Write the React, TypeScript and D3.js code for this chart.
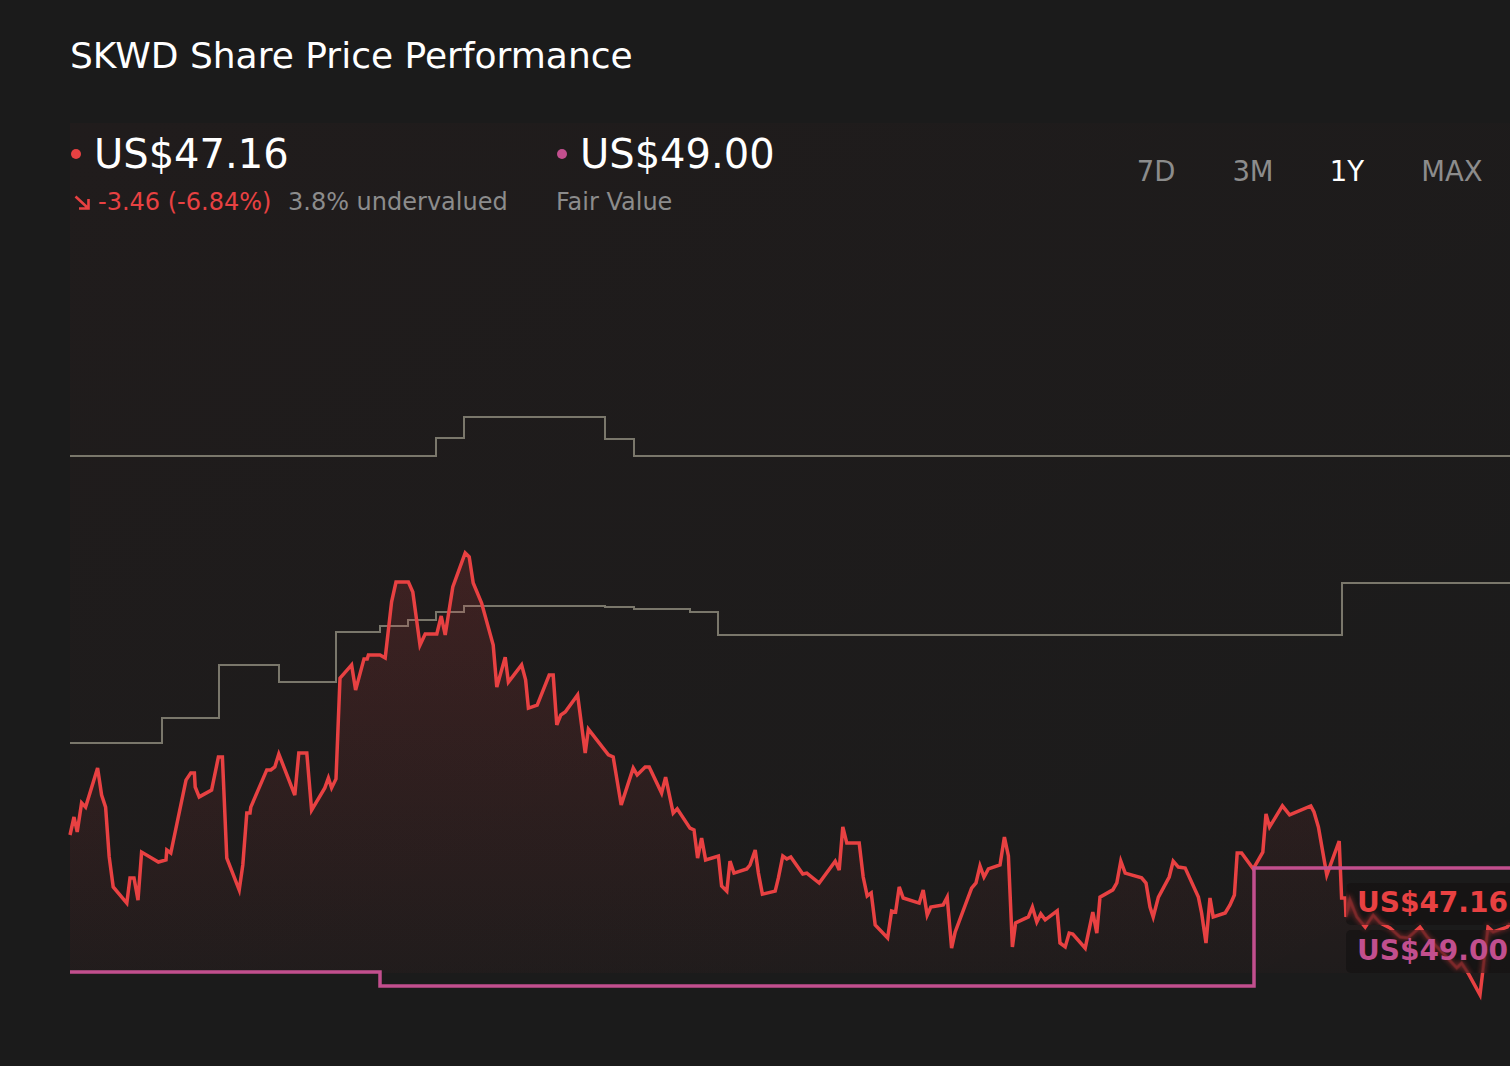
import React from 'react'
import * as d3 from 'd3'

// Share price, one year (day offset from start, US$)
const priceDays = [
  0, 1, 1.8, 2.9, 3.9, 6.9, 7.9, 8.9, 9.8, 10.8, 14.2, 15, 16, 17, 17.9, 22.1, 24, 24.2, 25.2, 29,
  30.2, 31.1, 31.3, 32.3, 35.4, 37.1, 38.1, 39.2, 42.3, 43.2, 44.2, 45, 45.2, 49.2, 50.2, 51.2, 52.2, 56.2, 57.2, 59.2,
  60.4, 63.7, 64.6, 65.4, 66.5, 67.5, 70.4, 71.4, 73.5, 74.3, 74.6, 77.5, 78.8, 80.4, 81.5, 84.6, 85.7, 87.5, 88.8, 91.7,
  92.8, 93.8, 95.7, 98.8, 99.8, 100.8, 102.9, 105.8, 106.7, 108.8, 109.6, 112.9, 113.9, 114.6, 116.8, 119.8, 120.8, 121.7, 122.7, 123.8,
  126.9, 128.8, 129.6, 134.6, 135.8, 137.8, 140.8, 141.8, 143.8, 144.8, 147.9, 148.9, 150.8, 151.8, 155, 156, 156.9, 157.9, 158.9, 162.1,
  162.9, 164.2, 165, 166, 169.2, 170, 171.3, 172.1, 173.1, 176.3, 177.1, 178.2, 179.2, 180.2, 183.2, 184.2, 187.3, 191.3, 192.3, 193.2,
  194.2, 197.3, 198.3, 199.3, 200.3, 201.3, 204.4, 205.4, 206.4, 207.3, 208.3, 212.3, 213.3, 214.3, 215.2, 218.3, 219.3, 220.4, 221.3, 225.4,
  226.5, 227.5, 228.5, 229.6, 232.5, 233.6, 234.6, 235.6, 236.4, 239.6, 240.6, 241.7, 242.7, 243.8, 246.8, 247.5, 248.8, 249.8, 250.7, 253.8,
  255.7, 256.7, 257.5, 260.7, 261.7, 262.7, 263.8, 267.9, 269, 270, 270.8, 272.1, 274.8, 275.8, 277.1, 278.8, 282.1, 282.9, 284, 285,
  285.8, 288.8, 290, 291.1, 291.8, 292.9, 295.8, 297.1, 298.2, 299, 299.9, 303.1, 304.9, 310.2, 311, 312.1, 314.2, 317.3, 317.9, 318.8,
  319, 320, 321.7, 323.8, 325.8, 327.5, 330, 332.5, 334.5, 337.5, 339.3, 342.5, 346.7, 347.9, 349.5, 352.5, 354.5, 355.8, 359.3, 360
]
const priceValues = [
  50.10, 50.70, 50.20, 51.17, 51.03, 52.33, 51.43, 51.03, 49.37, 48.37, 47.83, 48.67, 48.67, 47.93, 49.53, 49.20, 49.27, 49.60, 49.50, 51.93,
  52.17, 52.17, 51.70, 51.37, 51.60, 52.70, 52.70, 49.33, 48.27, 49.10, 50.83, 50.83, 51.03, 52.27, 52.27, 52.37, 52.80, 51.43, 52.83, 52.83,
  50.93, 51.67, 52.00, 51.67, 51.97, 55.33, 55.77, 54.93, 55.97, 55.97, 56.10, 56.10, 56.00, 57.87, 58.53, 58.53, 58.20, 56.43, 56.80, 56.80,
  57.40, 56.77, 58.37, 59.50, 59.37, 58.50, 57.83, 56.43, 55.03, 56.03, 55.20, 55.77, 55.27, 54.33, 54.43, 55.43, 55.43, 53.77, 54.10, 54.20,
  54.77, 52.83, 53.63, 52.77, 52.70, 51.10, 52.33, 52.10, 52.37, 52.37, 51.50, 52.03, 50.83, 50.97, 50.33, 50.27, 49.33, 50.00, 49.27, 49.40,
  48.40, 48.23, 49.23, 48.83, 48.97, 49.10, 49.60, 48.83, 48.13, 48.23, 48.67, 49.40, 49.30, 49.37, 48.80, 48.83, 48.50, 49.23, 48.93, 50.37,
  49.83, 49.83, 48.70, 48.07, 48.17, 47.10, 46.67, 47.57, 47.53, 48.37, 48.00, 47.83, 48.27, 47.43, 47.70, 47.77, 48.03, 46.33, 46.87, 48.33,
  48.50, 49.07, 48.70, 48.97, 49.10, 50.03, 49.40, 46.37, 47.17, 47.37, 47.70, 47.20, 47.47, 47.27, 47.57, 46.50, 46.37, 46.83, 46.80, 46.33,
  47.53, 46.83, 48.03, 48.27, 48.50, 49.23, 48.83, 48.67, 48.50, 47.70, 47.37, 48.03, 48.70, 49.23, 49.03, 49.00, 48.03, 47.50, 46.50, 48.00,
  47.37, 47.50, 47.77, 48.10, 49.50, 49.50, 48.97, 49.27, 49.53, 50.80, 50.37, 51.07, 50.77, 51.07, 50.87, 50.37, 48.77, 49.90, 48.00, 48.00,
  47.37, 47.93, 47.37, 47.03, 47.43, 47.17, 47.00, 46.70, 46.67, 47.03, 46.70, 46.27, 45.67, 45.83, 45.50, 44.77, 47.03, 46.87, 47.03, 47.16
]

// Fair value steps
const fairValueDays = [0, 77.5, 296, 360]
const fairValues = [45.53, 45.07, 49.0, 49.0]

// Analyst price target steps (high / low)
const targetHighDays = [0, 91.5, 98.5, 133.75, 141, 360]
const targetHighValues = [62.73, 63.33, 64.03, 63.3, 62.73, 62.73]
const targetLowDays = [0, 23, 37.25, 52.25, 66.5, 77.5, 84.5, 91.5, 98.5, 133.75, 141, 155, 162, 318, 360]
const targetLowValues = [53.17, 54.0, 55.77, 55.2, 56.87, 57.07, 57.27, 57.53, 57.73, 57.7, 57.63, 57.53, 56.77, 58.5, 58.5]

const ranges = ['7D', '3M', '1Y', 'MAX']
const rangeX = [1156, 1253, 1347, 1452]

const lastPrice = 47.16
const fairValue = 49.0

const W = 1510
const H = 1066
const BG = '#1b1b1b'
const RED = '#e84142'
const PINK = '#c24f8e'
const GREY = '#7a776b'
const FONT = '"DejaVu Sans", Verdana, sans-serif'

type Pt = { d: number; v: number }
const zip = (ds: number[], vs: number[]): Pt[] => ds.map((d, i) => ({ d, v: vs[i] }))

export default function App() {
  const x = d3.scaleLinear().domain([0, 360]).range([70, 1510])
  const y = d3.scaleLinear().domain([44, 74]).range([1018, 118])
  const plotBottom = 973

  const price = zip(priceDays, priceValues)
  const line = d3.line<Pt>().x(p => x(p.d)).y(p => y(p.v))
  const area = d3.area<Pt>().x(p => x(p.d)).y0(plotBottom).y1(p => y(p.v))
  const step = d3.line<Pt>().x(p => x(p.d)).y(p => y(p.v)).curve(d3.curveStepAfter)

  const pricePath = line(price) || ''
  const peakY = y(d3.max(priceValues) as number)

  return (
    <svg width={W} height={H} style={{ position: 'absolute', left: 0, top: 0, background: BG }}
      fontFamily={FONT}>
      <defs>
        <linearGradient id="areaFill" x1="0" x2="0" y1={peakY} y2={plotBottom} gradientUnits="userSpaceOnUse">
          <stop offset="0" stopColor={RED} stopOpacity={0.16} />
          <stop offset="1" stopColor={RED} stopOpacity={0.02} />
        </linearGradient>
        <linearGradient id="plotBg" x1="0" x2="1" y1="0" y2="1">
          <stop offset="0" stopColor={RED} stopOpacity={0.025} />
          <stop offset="1" stopColor={RED} stopOpacity={0.0} />
        </linearGradient>
        <clipPath id="labelClip">
          <rect x={1346} y={883} width={200} height={42} rx={5} />
          <rect x={1346} y={930} width={200} height={43} rx={5} />
        </clipPath>
        <filter id="glow" x="-10%" y="-50%" width="120%" height="200%">
          <feGaussianBlur stdDeviation="2.5" />
        </filter>
      </defs>

      <rect width={W} height={H} fill={BG} />
      <rect x={70} y={123} width={W - 70} height={plotBottom - 123} fill="url(#plotBg)" />

      {/* header */}
      <text x={70} y={68} fill="#ffffff" fontSize={36}>SKWD Share Price Performance</text>

      <circle cx={76} cy={154} r={5} fill={RED} />
      <text x={94} y={168} fill="#ffffff" fontSize={40}>{`US$${lastPrice.toFixed(2)}`}</text>
      <path d="M75.5,196.5 L88,208 M88.5,199 L88.5,208.5 L79,208.5" fill="none" stroke={RED} strokeWidth={2.6} />
      <text x={98} y={210} fill={RED} fontSize={24}>-3.46 (-6.84%)</text>
      <text x={288} y={210} fill="#8c8c8c" fontSize={24}>3.8% undervalued</text>

      <circle cx={562} cy={154} r={5} fill={PINK} />
      <text x={580} y={168} fill="#ffffff" fontSize={40}>{`US$${fairValue.toFixed(2)}`}</text>
      <text x={556} y={210} fill="#8c8c8c" fontSize={24}>Fair Value</text>

      {ranges.map((r, i) => (
        <text key={r} x={rangeX[i]} y={181} textAnchor="middle" fontSize={27.5}
          fill={r === '1Y' ? '#ffffff' : '#8c8c8c'}>{r}</text>
      ))}

      {/* analyst targets */}
      <path d={step(zip(targetHighDays, targetHighValues)) || ''} fill="none" stroke={GREY} strokeWidth={2} />
      <path d={step(zip(targetLowDays, targetLowValues)) || ''} fill="none" stroke={GREY} strokeWidth={2} />

      {/* price */}
      <path d={area(price) || ''} fill="url(#areaFill)" />
      <path d={pricePath} fill="none" stroke={RED} strokeWidth={3.5} />

      {/* fair value */}
      <path d={step(zip(fairValueDays, fairValues)) || ''} fill="none" stroke={PINK} strokeWidth={3.5} />

      {/* end labels */}
      <rect x={1346} y={883} width={200} height={42} rx={5} fill="rgba(22,19,19,0.82)" />
      <rect x={1346} y={930} width={200} height={43} rx={5} fill="rgba(22,19,19,0.82)" />
      <g clipPath="url(#labelClip)" opacity={0.45}>
        <path d={pricePath} fill="none" stroke={RED} strokeWidth={4} filter="url(#glow)" />
        <path d={pricePath} fill="none" stroke={RED} strokeWidth={2} opacity={0.6} />
      </g>
      <text x={1357} y={912} fill={RED} fontSize={28} fontWeight="bold">{`US$${lastPrice.toFixed(2)}`}</text>
      <text x={1357} y={960} fill={PINK} fontSize={28} fontWeight="bold">{`US$${fairValue.toFixed(2)}`}</text>
    </svg>
  )
}
